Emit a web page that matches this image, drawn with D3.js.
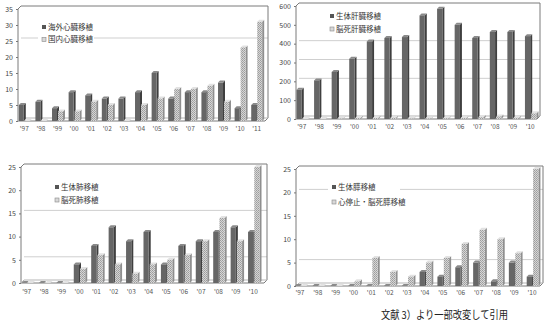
<!DOCTYPE html>
<html><head><meta charset="utf-8">
<script src="https://cdn.jsdelivr.net/npm/d3@7"></script>
<style>
body{margin:0;background:#fff}
svg{display:block}
text{font-family:"Noto Sans CJK JP","Noto Sans",sans-serif}
</style>
</head><body>
<svg id="c" width="550" height="324"></svg>
<script>
// ---------- data ----------
const heartYears = ["'97","'98","'99","'00","'01","'02","'03","'04","'05","'06","'07","'08","'09","'10","'11"];
const heartOverseas = [5,6,4,9,8,7,7,9,15,7,9,9,12,4,5];
const heartDomestic = [0,0,3,3,6,5,0,5,7,10,10,11,6,23,31];
const heartTicks = [0,5,10,15,20,25,30,35];
const heartNames = ["海外心臓移植","国内心臓移植"];

const liverYears = ["'97","'98","'99","'00","'01","'02","'03","'04","'05","'06","'07","'08","'09","'10"];
const liverLiving = [155,205,250,320,412,430,435,550,585,500,430,462,462,440];
const liverDeceased = [0,0,2,6,6,7,2,3,4,5,10,13,7,30];
const liverTicks = [0,100,200,300,400,500,600];
const liverNames = ["生体肝臓移植","脳死肝臓移植"];

const lungYears = ["'97","'98","'99","'00","'01","'02","'03","'04","'05","'06","'07","'08","'09","'10"];
const lungLiving = [0,0,0,4,8,12,9,11,4,8,9,11,12,11];
const lungDeceased = [0,0,0,3,6,4,2,4,5,6,9,14,9,25];
const lungTicks = [0,5,10,15,20,25];
const lungNames = ["生体肺移植","脳死肺移植"];

const pancYears = ["'97","'98","'99","'00","'01","'02","'03","'04","'05","'06","'07","'08","'09","'10"];
const pancLiving = [0,0,0,0,0,0,0,3,2,4,5,1,5,2];
const pancDeceased = [0,0,0,1,6,3,2,5,6,9,12,10,7,25];
const pancTicks = [0,5,10,15,20,25];
const pancNames = ["生体膵移植","心停止・脳死膵移植"];

const caption = "文献 3）より一部改変して引用";

// ---------- layout ----------
const svg = d3.select("#c");
const defs = svg.append("defs");
const pat = defs.append("pattern").attr("id","hatch").attr("width",2).attr("height",2).attr("patternUnits","userSpaceOnUse");
pat.append("rect").attr("width",2).attr("height",2).attr("fill","#d6d6d6");
pat.append("rect").attr("width",1).attr("height",1).attr("fill","#9c9c9c");
pat.append("rect").attr("x",1).attr("y",1).attr("width",1).attr("height",1).attr("fill","#a8a8a8");

function drawPanel(L, cats, s1, s2, ticks, names){
  const d = 3, dd = 2;
  const g = svg.append("g");
  const y = d3.scaleLinear().domain([0, ticks[ticks.length-1]]).range([L.yBase, L.yTop]);
  const x = d3.scaleBand().domain(cats).range(L.xRange);
  const top = L.yTop - d;
  // back wall grid lines
  L.grid.forEach(v=>{
    g.append("line").attr("x1",L.x0+d).attr("x2",L.x1).attr("y1",y(v)-d).attr("y2",y(v)-d)
      .attr("stroke","#cfcfcf").attr("stroke-width",1);
  });
  // frame
  g.append("path")
    .attr("d",`M${L.x0},${L.yBase} L${L.x0},${top+d} L${L.x0+d},${top} L${L.x1},${top} L${L.x1},${L.yBase-d} L${L.x1-d},${L.yBase} Z`)
    .attr("fill","none").attr("stroke","#7a7a7a").attr("stroke-width",1);
  g.append("path")
    .attr("d",`M${L.x0},${L.yBase} L${L.x0+d},${L.yBase-d} L${L.x1},${L.yBase-d}`)
    .attr("fill","none").attr("stroke","#b5b5b5").attr("stroke-width",1);
  // bars
  const bw = x.bandwidth()*0.3;
  function bar(cat, v, off, front, side, topc){
    const x0 = x(cat) + x.bandwidth()/2 + off + L.shift;
    const yv = y(v);
    const b = g.append("g");
    b.append("path").attr("d",`M${x0+bw},${yv} L${x0+bw+dd},${yv-dd} L${x0+bw+dd},${L.yBase-dd} L${x0+bw},${L.yBase} Z`).attr("fill",side);
    b.append("path").attr("d",`M${x0},${yv} L${x0+dd},${yv-dd} L${x0+bw+dd},${yv-dd} L${x0+bw},${yv} Z`).attr("fill",topc);
    b.append("rect").attr("x",x0).attr("y",yv).attr("width",bw).attr("height",Math.max(0,L.yBase-yv)).attr("fill",front);
  }
  cats.forEach((c,i)=>{
    bar(c, s1[i], -bw-dd/2, "#666666", "#3f3f3f", "#8a8a8a");
    bar(c, s2[i], 0, "url(#hatch)", "#8f8f8f", "#e2e2e2");
  });
  // y axis
  const ya = g.append("g").attr("transform",`translate(${L.x0},0)`)
    .call(d3.axisLeft(y).tickValues(ticks).tickSize(2).tickPadding(3).tickFormat(d3.format("d")));
  ya.select(".domain").remove();
  ya.selectAll(".tick line").attr("stroke","#777");
  ya.selectAll("text").attr("font-size",7).attr("fill","#444").attr("font-family","Liberation Sans, Arial, sans-serif");
  // x axis
  const xa = g.append("g").attr("transform",`translate(0,${L.xLabelY})`)
    .call(d3.axisBottom(x).tickSize(0).tickPadding(0));
  xa.select(".domain").remove();
  xa.selectAll("text").attr("dy","0.35em").attr("font-size",6.5).attr("fill","#555").attr("font-family","Liberation Sans, Arial, sans-serif");
  // legend
  g.append("rect").attr("x",L.legend[0]-4).attr("y",L.legend[1]-7).attr("width",L.legendW).attr("height",L.legendGap+14).attr("fill","#fff");
  names.forEach((n,i)=>{
    const ly = L.legend[1] + i*L.legendGap;
    g.append("rect").attr("x",L.legend[0]).attr("y",ly-2).attr("width",4).attr("height",4)
      .attr("fill", i===0 ? "#555" : "#d8d8d8").attr("stroke", i===0 ? "none" : "#888").attr("stroke-width",0.6);
    g.append("text").attr("x",L.legend[0]+6).attr("y",ly).attr("dy","0.35em")
      .attr("font-size",7.5).attr("fill","#333").text(n);
  });
}

drawPanel({yBase:121,yTop:9,xRange:[16,265],x0:18,x1:268,xLabelY:129,shift:0.5,grid:[25],
  legend:[42,27],legendGap:12.5,legendW:56}, heartYears, heartOverseas, heartDomestic, heartTicks, heartNames);
drawPanel({yBase:119,yTop:6,xRange:[293,539],x0:296,x1:540,xLabelY:127,shift:1,grid:[200,300,400],
  legend:[330,16],legendGap:13,legendW:52}, liverYears, liverLiving, liverDeceased, liverTicks, liverNames);
drawPanel({yBase:283,yTop:167,xRange:[18,262],x0:21,x1:267,xLabelY:292,shift:1,grid:[5,15],
  legend:[55,187],legendGap:13,legendW:50}, lungYears, lungLiving, lungDeceased, lungTicks, lungNames);
drawPanel({yBase:286,yTop:169,xRange:[291,541],x0:296,x1:543,xLabelY:293,shift:1,grid:[5,20],
  legend:[332,187],legendGap:15,legendW:72}, pancYears, pancLiving, pancDeceased, pancTicks, pancNames);

svg.append("text").attr("x",381).attr("y",319).attr("font-size",11).attr("fill","#222")
  .attr("textLength",127).attr("lengthAdjust","spacingAndGlyphs").text(caption);
</script>
</body></html>
